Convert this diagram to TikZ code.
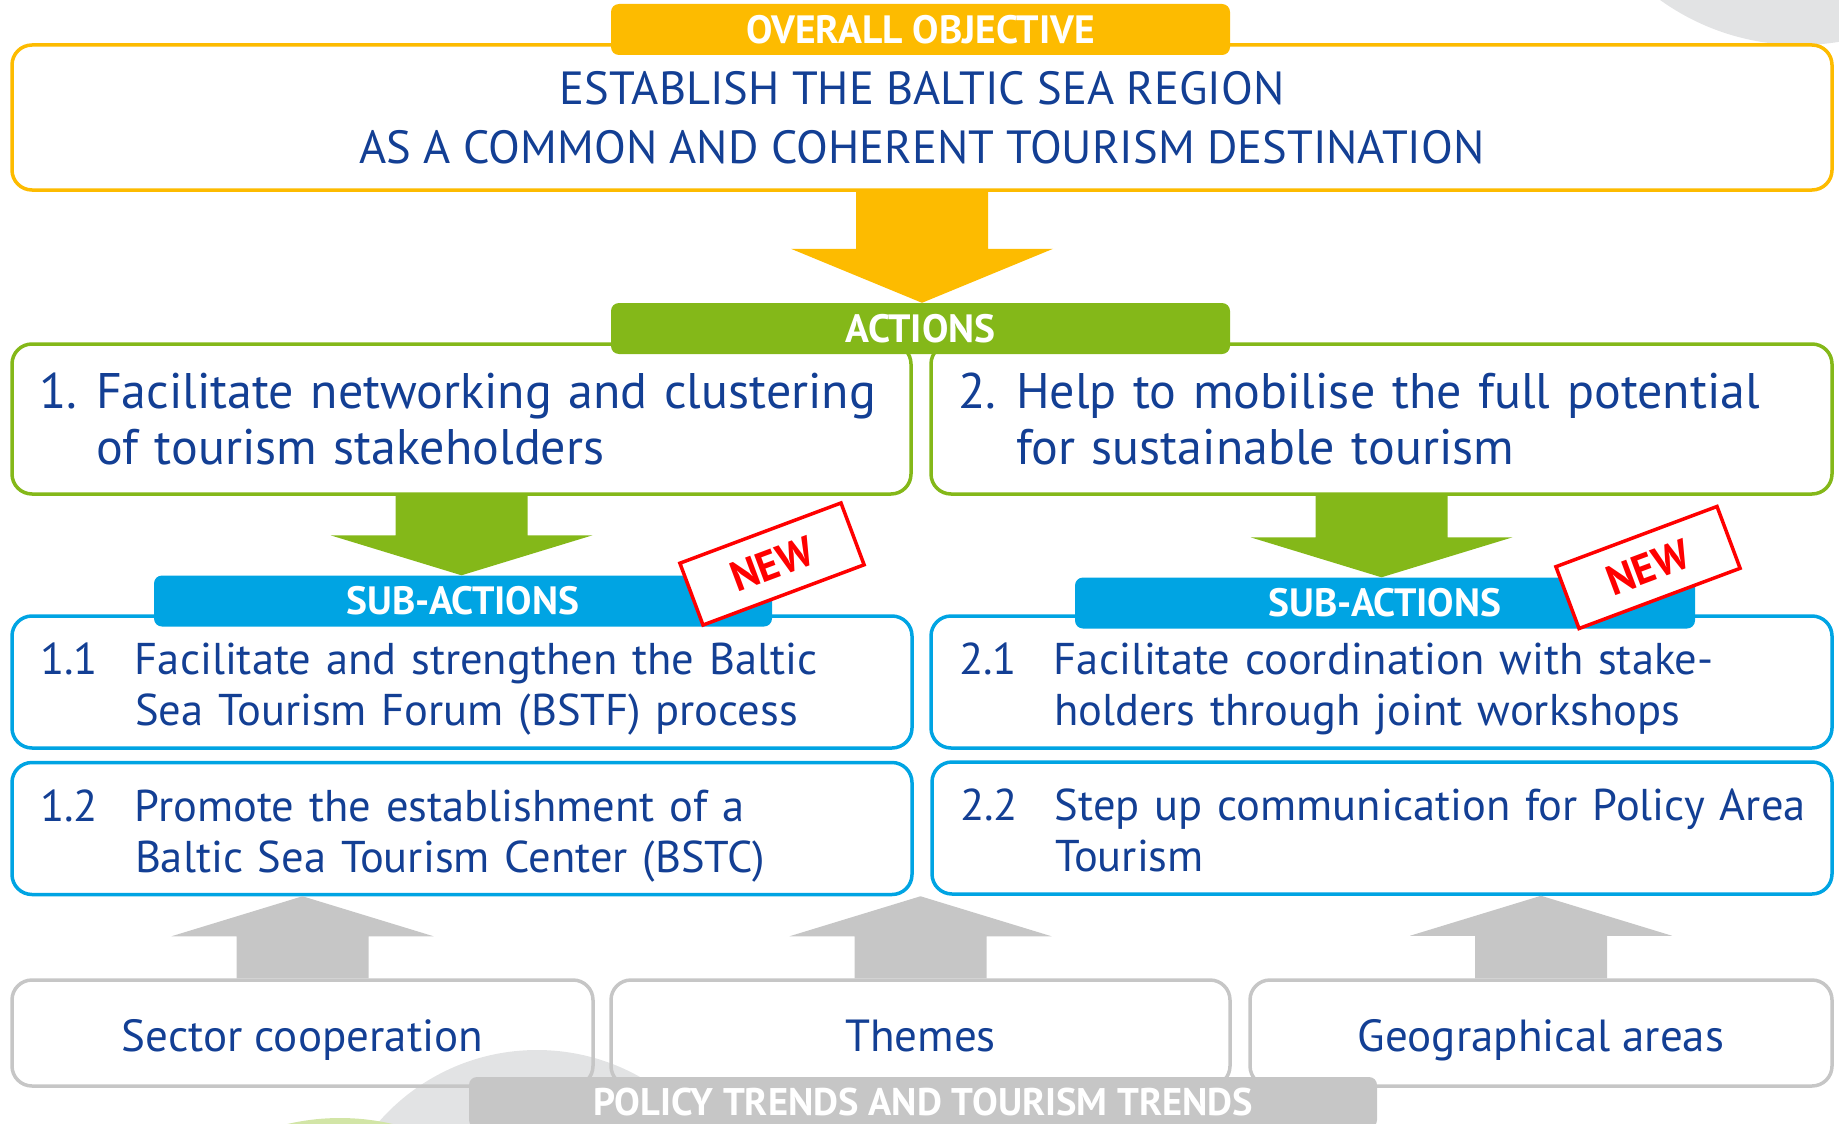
\documentclass[tikz,border=0pt]{standalone}
\usepackage{fontspec}
\setmainfont{PT Sans}
\usetikzlibrary{calc}

\definecolor{objyellow}{HTML}{FDBB00}
\definecolor{actgreen}{HTML}{84B819}
\definecolor{subblue}{HTML}{00A4E3}
\definecolor{trendgray}{HTML}{C6C6C6}
\definecolor{textblue}{HTML}{133F94}
\definecolor{decogray}{HTML}{E2E3E4}
\definecolor{decogreen}{HTML}{D2E5A6}

\tikzset{
  box/.style={line width=3.5pt, rounded corners=20pt, text=textblue},
  objbox/.style={box, draw=objyellow, fill=white, align=center,
    font=\fontsize{46.5}{59}\selectfont},
  actbox/.style={box, draw=actgreen, fill=white, align=left,
    inner xsep=27pt, text width=845pt, minimum height=150pt,
    font=\fontsize{50}{56}\selectfont},
  subbox/.style={box, draw=subblue, fill=white, align=left,
    inner xsep=28pt, text width=844pt, minimum height=132pt,
    font=\fontsize{44.5}{51}\selectfont,
    execute at begin node={\rule{0pt}{46pt}}},
  trendbox/.style={box, draw=trendgray, minimum height=106pt,
    text height=36pt, text depth=0pt,
    font=\fontsize{45}{50}\selectfont},
  tag/.style={rounded corners=8pt, text=white, minimum width=619pt,
    minimum height=51pt, font=\bfseries\fontsize{39.5}{42}\selectfont},
  newstamp/.style={draw=red, line width=3.5pt, fill=white, text=red,
    minimum width=172pt, minimum height=66pt, rotate=20.5,
    font=\bfseries\fontsize{42}{44}\selectfont},
}

% block arrow: colour, from, to, head length (signed)
\def\SW{66pt}
\def\HW{131pt}
\newcommand{\blockarrow}[4]{%
  \fill[#1] let \p1=(#2), \p2=(#3) in
    (\x1-\SW,\y1) -- (\x1+\SW,\y1) -- (\x1+\SW,\y2#4) -- (\x1+\HW,\y2#4)
    -- (\x1,\y2) -- (\x1-\HW,\y2#4) -- (\x1-\SW,\y2#4) -- cycle;}

\begin{document}
\begin{tikzpicture}[x=1pt, y=-1pt]
  \useasboundingbox (0,0) rectangle (1839,1124);
  \clip (0,0) rectangle (1839,1124);
  % Background shapes
  \fill[decogray] (1800,-195) circle (240);
  \fill[decogray] (537,1260) circle (210);
  \fill[decogreen] (340,1350) circle (232);

  % Overall objective
  \node[objbox, minimum width=1820pt, minimum height=145pt] (obj) at (922,117.5)
    {ESTABLISH THE BALTIC SEA REGION\\AS A COMMON AND COHERENT TOURISM DESTINATION};
  \node[tag, fill=objyellow] (objtag) at (920.5,29.5) {OVERALL OBJECTIVE};

  % Actions
  \node[actbox] (act1) at (461.5,419)
    {\makebox[57pt][l]{1.}Facilitate networking and clustering\\\hspace*{57pt}of tourism stakeholders};
  \node[actbox, text width=847pt] (act2) at (1381.5,419)
    {\makebox[58pt][l]{2.}Help to mobilise the full potential\\\hspace*{58pt}for sustainable tourism};
  \node[tag, fill=actgreen] (acttag) at (920.5,328.5) {ACTIONS};
  \blockarrow{objyellow}{obj.south}{acttag.north}{+54pt}

  % Sub-actions
  \node[subbox] (sub11) at (462,682)
    {\makebox[95pt][l]{1.1}Facilitate and strengthen the Baltic\\\hspace*{95pt}Sea Tourism Forum (BSTF) process};
  \node[subbox] (sub12) at (462,828.5)
    {\makebox[95pt][l]{1.2}Promote the establishment of a\\\hspace*{95pt}Baltic Sea Tourism Center (BSTC)};
  \node[subbox, text width=845pt] (sub21) at (1381.5,682)
    {\makebox[95pt][l]{2.1}Facilitate coordination with stake-\\\hspace*{95pt}holders through joint workshops};
  \node[subbox, text width=844pt] (sub22) at (1382,828)
    {\makebox[95pt][l]{2.2}\mbox{Step up communication for Policy Area}\\\hspace*{95pt}Tourism\vphantom{(}};
  \node[tag, fill=subblue, minimum width=618pt] (subtag1) at (463,601) {SUB-ACTIONS};
  \node[tag, fill=subblue, minimum width=620pt] (subtag2) at (1385,603) {SUB-ACTIONS};
  \blockarrow{actgreen}{act1.south}{subtag1.north}{+40pt}
  \blockarrow{actgreen}{act2.south}{subtag2.north}{+40pt}

  % New stamps
  \node[newstamp] (new1) at (772,564) {NEW};
  \node[newstamp] (new2) at (1648,567.5) {NEW};

  % Trends
  \node[trendbox, minimum width=581pt] (sector) at (302.5,1033) {Sector cooperation};
  \node[trendbox, minimum width=619pt] (themes) at (920.5,1033) {Themes};
  \node[trendbox, minimum width=582pt] (geo) at (1541,1033) {Geographical areas};
  \blockarrow{trendgray}{sector.north}{sub12.south}{-40pt}
  \blockarrow{trendgray}{themes.north}{sub12.south}{-40pt}
  \blockarrow{trendgray}{geo.north}{sub22.south}{-40pt}
  \node[tag, fill=trendgray, minimum width=908pt, font=\bfseries\fontsize{38.5}{42}\selectfont]
    (trendtag) at (923,1102.5) {POLICY TRENDS AND TOURISM TRENDS};
\end{tikzpicture}
\end{document}
